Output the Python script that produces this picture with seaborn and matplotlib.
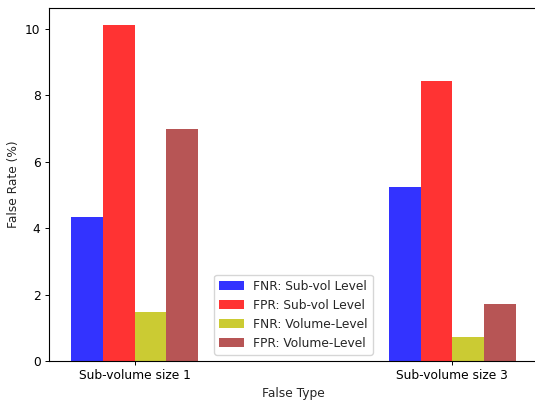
import matplotlib
matplotlib.use("Agg")
import matplotlib.pyplot as plt
import seaborn as sns
import pandas as pd

categories = ["Sub-volume size 1", "Sub-volume size 3"]
series_names = ["FNR: Sub-vol Level", "FPR: Sub-vol Level", "FNR: Volume-Level", "FPR: Volume-Level"]
fnr_subvol = [4.34, 5.24]
fpr_subvol = [10.12, 8.42]
fnr_volume = [1.47, 0.73]
fpr_volume = [6.99, 1.72]
colors = ["blue", "red", "y", "brown"]

rows = []
for name, vals in zip(series_names, [fnr_subvol, fpr_subvol, fnr_volume, fpr_volume]):
    for c, v in zip(categories, vals):
        rows.append({"False Type": c, "False Rate (%)": v, "Series": name})
df = pd.DataFrame(rows)

sns.set_style("white")
plt.rcParams["font.family"] = ["DejaVu Sans"]
fs = 8.8
plt.rcParams["font.size"] = fs

fig = plt.figure(figsize=(5.35, 4.01), dpi=100)
ax = fig.add_axes([49 / 535, (401 - 361) / 401, (538 - 49) / 535, (361 - 8) / 401])

sns.barplot(data=df, x="False Type", y="False Rate (%)", hue="Series",
            hue_order=series_names, order=categories, palette=colors,
            width=0.4, saturation=1, alpha=0.8, ax=ax, linewidth=0, errorbar=None)

ax.set_xlim(-0.27, 1.27)
ax.set_ylim(0, 10.63)
ax.set_yticks([0, 2, 4, 6, 8, 10])
ax.tick_params(axis="both", which="both", direction="out", length=3.1, width=0.7,
               pad=3.0, bottom=True, left=True, labelsize=fs, colors="black")
for s in ["left", "bottom", "top"]:
    ax.spines[s].set_visible(True)
    ax.spines[s].set_color("black")
    ax.spines[s].set_linewidth(0.8)
ax.spines["right"].set_visible(False)
ax.set_xlabel("False Type", fontsize=fs, labelpad=3.5)
ax.set_ylabel("False Rate (%)", fontsize=fs, labelpad=3.5)
ax.legend(loc="lower center", fontsize=fs, frameon=True, borderaxespad=0.5)

fig.savefig("out.png", dpi=100)
